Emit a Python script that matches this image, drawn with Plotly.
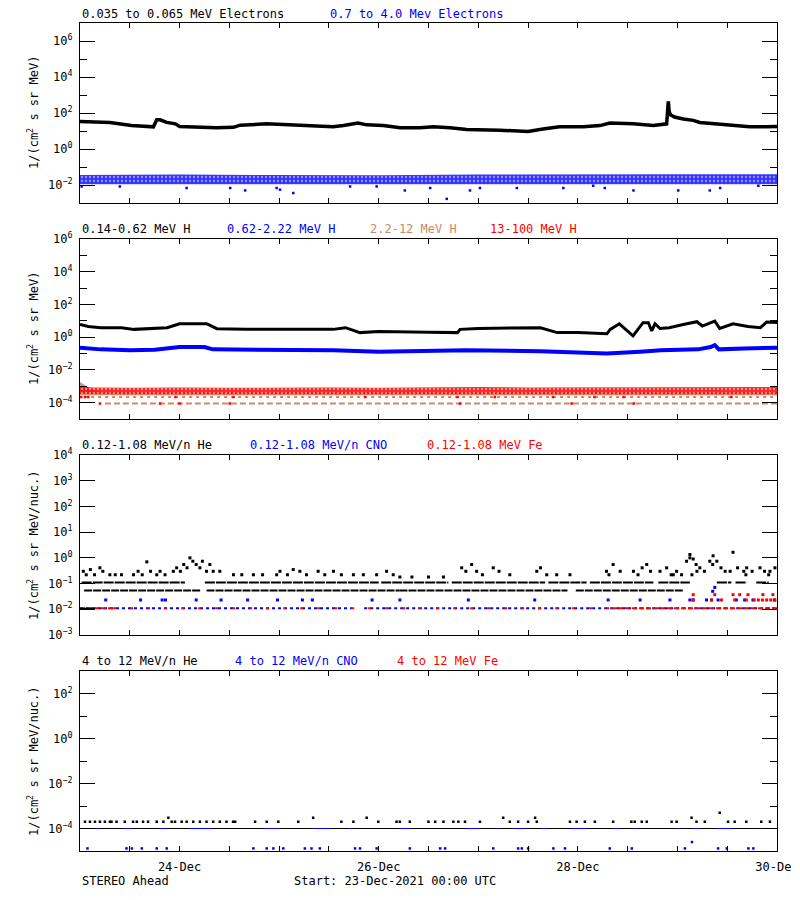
import pandas as pd
import plotly.graph_objects as go
from plotly.subplots import make_subplots

START = pd.Timestamp("2021-12-23 00:00")
END = pd.Timestamp("2021-12-30 00:00")

# ---------------- Panel 1 : electrons ----------------
e_low_hours = [0, 4, 7.2, 12.4, 17.7, 18.5, 19.3, 20.9, 23, 24, 28.9, 32.9, 37, 38.6, 45, 53, 57, 61, 63.5,
               67, 69.1, 73.1, 76.3, 77.1, 81.9, 85.2, 89.2, 93.2, 101.2, 108, 111.6, 115.6, 121.3, 125.3,
               127.7, 133.3, 138.2, 141.4, 141.8, 141.9, 142.0, 142.3, 143.3, 145.4, 147.8, 149.4, 153.4,
               157.4, 161.4, 165.4, 168]
e_low_flux = [34, 32, 30, 20, 17, 42, 42, 30, 25, 18, 16, 15, 16, 21, 25, 20, 18, 17, 20,
              28, 22, 20, 16, 15, 15, 17, 15, 12, 11, 9.5, 13, 17, 17, 20,
              28, 25, 20, 25, 440, 230, 122, 80, 60, 46, 39, 30, 25,
              20, 17, 17, 18]

e_high_band_hours = [0, 24, 48, 72, 96, 120, 144, 168]
e_high_band_low = [0.011, 0.011, 0.011, 0.011, 0.011, 0.011, 0.011, 0.011]
e_high_band_high = [0.036, 0.038, 0.036, 0.035, 0.038, 0.040, 0.040, 0.040]
e_high_out_hours = [0.4, 9.6, 25.7, 36.2, 39.8, 47.4, 48.2, 51.4, 65.1, 71.5, 78.3, 84.4, 88.4, 94.0,
                    96.4, 105.3, 116.5, 123.7, 126.5, 133.4, 144.2, 151.8, 154.3, 163.5]
e_high_out_flux = [0.0083, 0.0083, 0.0068, 0.0068, 0.005, 0.0068, 0.0055, 0.0036, 0.0083, 0.0083,
                   0.005, 0.0068, 0.0017, 0.005, 0.0068, 0.0068, 0.0068, 0.0091, 0.0068, 0.005,
                   0.005, 0.005, 0.0068, 0.0091]

# ---------------- Panel 2 : protons ----------------
h1_hours = [0, 2, 5, 10, 13, 17, 21, 24, 27, 30.5, 33, 40, 50, 58, 61, 64, 67.5, 72, 77, 84, 91, 91.6,
            96, 104, 111, 115, 120, 127, 127.8, 130, 132.5, 133.3, 135.7, 137, 137.8, 138.6, 139.8, 142,
            145.4, 148.7, 150, 153, 154.2, 157.4, 161, 164, 165.5, 168]
h1_flux = [6.0, 4.5, 3.8, 3.8, 3.0, 3.4, 3.8, 6.6, 6.6, 6.6, 3.3, 3.0, 3.0, 3.0, 3.0, 3.8, 1.9, 2.2, 2.2,
           2.0, 1.9, 3.0, 3.4, 3.6, 3.8, 1.9, 1.9, 1.6, 3.0, 6.6, 1.9, 1.2, 7.7, 7.7, 2.4, 6.6, 3.4, 3.8,
           6.0, 8.8, 4.8, 9.6, 3.4, 6.6, 4.5, 3.8, 8.4, 8.0]

h2_hours = [0, 5, 12, 18, 24, 30, 32, 45, 61, 72, 77, 93, 111, 120, 127, 135, 140, 149, 152, 153, 154, 160, 168]
h2_flux = [0.23, 0.18, 0.16, 0.17, 0.25, 0.25, 0.18, 0.17, 0.16, 0.13, 0.14, 0.16, 0.14, 0.12, 0.10, 0.13,
           0.16, 0.18, 0.25, 0.33, 0.18, 0.20, 0.23]

h3_band_hours = [0, 1, 3, 6, 168]
h3_band_low = [2.8e-4, 2.8e-4, 2.8e-4, 2.8e-4, 2.8e-4]
h3_band_high = [1.8e-3, 1.2e-3, 6.0e-4, 4.5e-4, 4.5e-4]
h3_row_a = [(1.0, 168.0)]
h3_row_a_flux = 2.2e-4
h3_row_b = [(6.0, 168.0)]
h3_row_b_flux = 9.0e-5

h4_band_hours = [0, 3, 12, 24, 36, 48, 60, 72, 84, 96, 108, 120, 132, 144, 156, 168]
h4_band_low = [3.4e-4, 3.3e-4, 3.3e-4, 3.3e-4, 3.3e-4, 3.3e-4, 3.3e-4, 3.3e-4, 3.3e-4, 3.3e-4, 3.3e-4,
               3.3e-4, 3.3e-4, 3.3e-4, 3.3e-4, 3.3e-4]
h4_band_high = [1.0e-3, 8.5e-4, 8.0e-4, 8.5e-4, 8.0e-4, 8.5e-4, 8.5e-4, 8.0e-4, 8.5e-4, 9.0e-4, 8.5e-4,
                8.5e-4, 9.0e-4, 9.0e-4, 8.5e-4, 9.0e-4]
h4_out_hours = [0.3, 1.2, 2.0, 4.8, 19.3, 23.0, 24.0, 36.1, 37.0, 68.7, 91.0, 91.6, 100.0, 114.0, 118.5,
                124.0, 131.0, 133.5, 157.0]
h4_out_flux = [2.2e-4, 2.2e-4, 2.2e-4, 8.8e-5, 8.8e-5, 2.2e-4, 8.8e-5, 8.8e-5, 2.2e-4, 2.2e-4, 2.2e-4,
               8.8e-5, 2.2e-4, 2.2e-4, 8.8e-5, 2.2e-4, 2.2e-4, 8.8e-5, 2.2e-4]

# ---------------- Panel 3 : 0.12-1.08 MeV/n ions ----------------
he_lo_row1 = [(0.4, 25.3), (30.1, 72.0), (72.6, 88.8), (89.6, 112.1), (112.9, 122.1), (122.9, 138.2),
              (139.4, 147.0), (153.5, 157.0), (158.0, 160.7), (163.0, 166.0)]
he_lo_row1_flux = 0.11
he_lo_row2 = [(1.0, 29.0), (30.5, 77.0), (77.0, 117.5), (119.5, 145.5)]
he_lo_row2_flux = 0.054
he_lo_row3 = [(0.0, 3.6)]
he_lo_row3_flux = 0.0105
he_lo_pts_hours = [0.8, 1.5, 2.5, 3.5, 4.8, 5.5, 7.2, 8.5, 10, 12.9, 14, 15, 16.1, 17, 18.5, 19.3, 20.5,
                   22.5, 23.3, 24.2, 25, 25.8, 26.5, 27.2, 28, 28.9, 29.5, 30.5, 31.3, 32.1, 33.7, 37, 39,
                   41.8, 44, 47.4, 48.2, 50, 51.4, 53, 54.6, 57.4, 59, 61.1, 63, 65.9, 68.3, 71.5, 73.9,
                   75.5, 77.1, 80, 84, 87.6, 92, 93, 94.4, 95.6, 97, 99.6, 101, 103.6, 110.1, 111, 112.5,
                   114.9, 118.1, 126.9, 127.5, 128.5, 130.2, 133.4, 134.5, 135.5, 136.6, 137.5, 139.8,
                   141.4, 142.5, 143.8, 145, 146.2, 147, 147.8, 148.5, 149.4, 150.5, 151.8, 152.6, 153.5,
                   154.5, 155.5, 156.7, 157.4, 158.5, 160, 160.7, 162, 163.9, 165, 166.3, 167.5, 152.5,
                   147.0, 148.7, 160.5, 147.5, 166.0, 143.0, 130.0]
he_lo_pts_flux = [0.30, 0.22, 0.35, 0.22, 0.41, 0.30, 0.22, 0.22, 0.22, 0.22, 0.30, 0.22, 0.70, 0.30, 0.22,
                  0.30, 0.22, 0.30, 0.41, 0.30, 0.55, 0.41, 1.0, 0.74, 0.55, 0.41, 0.74, 0.30, 0.55, 0.30,
                  0.30, 0.22, 0.22, 0.22, 0.22, 0.22, 0.30, 0.22, 0.35, 0.30, 0.22, 0.30, 0.22, 0.30, 0.22,
                  0.22, 0.22, 0.22, 0.30, 0.22, 0.18, 0.18, 0.18, 0.18, 0.41, 0.30, 0.55, 0.30, 0.22, 0.41,
                  0.30, 0.22, 0.30, 0.41, 0.22, 0.22, 0.22, 0.30, 0.22, 0.55, 0.30, 0.30, 0.22, 0.41, 0.55,
                  0.30, 0.30, 0.41, 0.22, 0.30, 0.22, 0.74, 1.35, 0.90, 0.55, 0.41, 0.30, 0.74, 1.20, 0.74,
                  0.41, 0.30, 0.30, 1.65, 0.41, 0.30, 0.41, 0.30, 0.41, 0.30, 0.30, 0.41, 0.55, 1.0, 0.30,
                  0.22, 0.22, 0.22, 0.22]

cno_lo_row = [(0.0, 65.5), (68.5, 168.0)]
cno_lo_row_flux = 0.011
cno_lo_pts_hours = [6.2, 14.6, 19.8, 20.6, 28, 34, 40.4, 47.6, 53.6, 56, 70.4, 77.1, 93.6, 109.6, 127.3,
                    135, 142.2, 147, 147.8, 151, 152.2, 153.8, 158.2, 160.2, 162.2, 167.4, 152.5, 153.0]
cno_lo_pts_flux = [0.023, 0.023, 0.023, 0.023, 0.023, 0.023, 0.023, 0.023, 0.023, 0.023, 0.023, 0.023,
                   0.023, 0.023, 0.023, 0.023, 0.023, 0.023, 0.023, 0.023, 0.023, 0.023, 0.023, 0.023,
                   0.023, 0.023, 0.05, 0.071]

fe_lo_row_sparse = [(8.0, 128.0)]
fe_lo_row_dense = [(0.0, 8.0), (128.0, 168.0)]
fe_lo_row_flux = 0.011
fe_lo_pts_hours = [147.8, 152.2, 154.6, 157.8, 160.6, 162.5, 163.5, 164.5, 165.5, 166.5, 167.5,
                   147.8, 153.0, 157.4, 159.0, 161.0, 164.6, 167.0]
fe_lo_pts_flux = [0.023, 0.023, 0.023, 0.023, 0.023, 0.023, 0.023, 0.023, 0.023, 0.023, 0.023,
                  0.037, 0.037, 0.037, 0.037, 0.037, 0.037, 0.037]

# ---------------- Panel 4 : 4-12 MeV/n ions ----------------
he_hi_base = [(0.4, 168.0)]
he_hi_base_flux = 1.0e-4
he_hi_pts_hours = [1.2, 2.4, 3.6, 4.8, 6.0, 7.2, 7.6, 8.8, 10.8, 12.8, 13.7, 15.2, 16.4, 18.5, 20.1, 21.3,
                   22.1, 22.9, 24.5, 25.7, 27.3, 28.9, 30.5, 32.1, 33.7, 35.3, 36.9, 37.4, 42.2, 45, 47.8,
                   52.6, 56.2, 63, 65.9, 69.1, 71.9, 76.3, 77.1, 79.5, 84, 85.6, 87.6, 90, 91.2, 92.8,
                   96.4, 102, 103.6, 105.6, 108, 109.7, 110.1, 118.1, 119.7, 121.7, 124.1, 128.5, 132.9,
                   133.7, 135.4, 136.6, 142.6, 143.8, 147.4, 148.6, 150.6, 154.2, 156.2, 157.8, 160.6,
                   164.2, 166.3]
he_hi_pts_flux = [2e-4, 2e-4, 2e-4, 2e-4, 2e-4, 2e-4, 2e-4, 2e-4, 2e-4, 2e-4, 2e-4, 2e-4, 2e-4, 2e-4,
                  2e-4, 3e-4, 2e-4, 2e-4, 2e-4, 2e-4, 2e-4, 2e-4, 2e-4, 2e-4, 2e-4, 2e-4, 2e-4, 2e-4,
                  2e-4, 2e-4, 2e-4, 2e-4, 3e-4, 2e-4, 2e-4, 3e-4, 2e-4, 2e-4, 2e-4, 2e-4, 2e-4, 2e-4,
                  2e-4, 2e-4, 2e-4, 2e-4, 2e-4, 3e-4, 2e-4, 2e-4, 2e-4, 3e-4, 2e-4, 2e-4, 2e-4, 2e-4,
                  2e-4, 2e-4, 2e-4, 2e-4, 2e-4, 2e-4, 2e-4, 2e-4, 3e-4, 2e-4, 2e-4, 5e-4, 2e-4, 2e-4,
                  2e-4, 2e-4, 2e-4]
cno_hi_base = [(3.6, 4.8), (10.4, 12.5), (19.3, 20.9), (26.5, 32.1), (44.2, 48.2), (56.2, 60.3),
               (64.8, 65.4), (77.0, 79.5), (93.0, 96.4), (100.4, 101.2), (104.4, 107.6), (111.2, 112.8),
               (118.1, 122.1), (128.5, 130.2), (133.4, 134.2), (143.8, 144.6), (147.8, 149.4),
               (153.4, 157.4), (164.0, 164.5)]
cno_hi_base_flux = 1.0e-4
cno_hi_pts_hours = [1.8, 11.2, 12.5, 14.9, 18.5, 20.9, 41.8, 45, 46.6, 49, 54.2, 55.8, 57.8, 66.3, 67.5,
                    71.5, 79.5, 86.8, 88, 99.6, 105.6, 106.5, 108, 114.1, 116.9, 127.7, 133, 145.8, 153.8,
                    155.9, 161.1, 162.3, 147.5]
cno_hi_pts_flux = [1.3e-5] * 32 + [2.5e-5]

# x-axis labels
x_tick_days = ["2021-12-24", "2021-12-26", "2021-12-28", "2021-12-30"]


def times(hours):
    return [START + pd.Timedelta(hours=h) for h in hours]


def segments(segs, level):
    xs, ys = [], []
    for a, b in segs:
        xs += [START + pd.Timedelta(hours=a), START + pd.Timedelta(hours=b), None]
        ys += [level, level, None]
    return xs, ys


BLACK = "#000000"
BLUE = "#0000FF"
RED = "#FF0000"
TAN = "#CD8769"
FONT = "DejaVu Sans Mono"

fig = make_subplots(rows=4, cols=1, shared_xaxes=True)


def band(row, hrs, lo, hi, color, pattern=None):
    fig.add_trace(go.Scatter(x=times(hrs), y=lo, mode="lines", line=dict(width=0, color=color),
                             hoverinfo="skip", showlegend=False), row=row, col=1)
    kw = dict(fill="tonexty", fillcolor=color)
    if pattern is not None:
        kw["fillpattern"] = pattern
    fig.add_trace(go.Scatter(x=times(hrs), y=hi, mode="lines", line=dict(width=0, color=color),
                             hoverinfo="skip", showlegend=False, **kw), row=row, col=1)


def pts(row, hrs, vals, color, size=3):
    fig.add_trace(go.Scatter(x=times(hrs), y=vals, mode="markers",
                             marker=dict(symbol="square", size=size, color=color, line=dict(width=0)),
                             showlegend=False), row=row, col=1)


def curve(row, hrs, vals, color, width):
    fig.add_trace(go.Scatter(x=times(hrs), y=vals, mode="lines", line=dict(color=color, width=width),
                             showlegend=False), row=row, col=1)


def row_line(row, segs, level, color, width=2, dash="solid"):
    xs, ys = segments(segs, level)
    fig.add_trace(go.Scatter(x=xs, y=ys, mode="lines", line=dict(color=color, width=width, dash=dash),
                             connectgaps=False, showlegend=False), row=row, col=1)


SPECKLE = dict(shape=".", fgcolor="white", size=4, solidity=0.25, fillmode="overlay")

# Panel 1
band(1, e_high_band_hours, e_high_band_low, e_high_band_high, "rgba(0,0,255,0.8)", SPECKLE)
pts(1, e_high_out_hours, e_high_out_flux, BLUE, 2.5)
curve(1, e_low_hours, e_low_flux, BLACK, 3.5)

# Panel 2
band(2, h3_band_hours, h3_band_low, h3_band_high, "rgba(205,135,105,0.9)")
band(2, h4_band_hours, h4_band_low, h4_band_high, "rgba(255,0,0,0.85)", SPECKLE)
row_line(2, h3_row_a, h3_row_a_flux, TAN, 2, "3px,4px")
row_line(2, h3_row_b, h3_row_b_flux, TAN, 2, "6px,3px")
pts(2, h4_out_hours, h4_out_flux, RED, 2.5)
curve(2, h2_hours, h2_flux, BLUE, 4)
curve(2, h1_hours, h1_flux, BLACK, 3)

# Panel 3
row_line(3, cno_lo_row, cno_lo_row_flux, BLUE, 2, "3px,3px")
row_line(3, fe_lo_row_sparse, fe_lo_row_flux, RED, 2, "3px,14px")
row_line(3, fe_lo_row_dense, fe_lo_row_flux, RED, 2, "5px,2px")
pts(3, cno_lo_pts_hours, cno_lo_pts_flux, BLUE, 3)
pts(3, fe_lo_pts_hours, fe_lo_pts_flux, RED, 3)
row_line(3, he_lo_row3, he_lo_row3_flux, BLACK, 2)
row_line(3, he_lo_row2, he_lo_row2_flux, BLACK, 2, "8px,1px")
row_line(3, he_lo_row1, he_lo_row1_flux, BLACK, 2, "10px,1px")
pts(3, he_lo_pts_hours, he_lo_pts_flux, BLACK, 3)

# Panel 4
row_line(4, he_hi_base, he_hi_base_flux, BLACK, 1)
row_line(4, cno_hi_base, cno_hi_base_flux, BLUE, 1)
pts(4, he_hi_pts_hours, he_hi_pts_flux, BLACK, 2.5)
pts(4, cno_hi_pts_hours, cno_hi_pts_flux, BLUE, 2.5)

# ---- axes ----
PH = 828.0
doms = [(648 / PH, 1.0), (432 / PH, 612 / PH), (216 / PH, 396 / PH), (0.0, 180 / PH)]
yranges = [(-3, 7), (-5, 6), (-3, 4), (-5, 3)]
ymajor = [[-2, 0, 2, 4, 6], [-4, -2, 0, 2, 4, 6], [-3, -2, -1, 0, 1, 2, 3, 4], [-4, -2, 0, 2]]
yminor = [[-1, 1, 3, 5], [-3, -1, 1, 3, 5], [], [-3, -1, 1]]


def sup(e):
    s = str(e).replace("-", "\u2212")
    return "10<sup>" + s + "</sup>"


for i in range(4):
    r = i + 1
    fig.update_yaxes(
        type="log", range=list(yranges[i]), domain=list(doms[i]),
        tickmode="array", tickvals=[10.0 ** e for e in ymajor[i]], ticktext=[sup(e) for e in ymajor[i]],
        ticks="inside", ticklen=15, tickwidth=1, tickcolor="black",
        minor=dict(tickmode="array", tickvals=[10.0 ** e for e in yminor[i]], ticks="inside", ticklen=7,
                   tickwidth=1, tickcolor="black", showgrid=False),
        showline=True, linecolor="black", linewidth=1, mirror="ticks",
        showgrid=False, zeroline=False, ticklabelstandoff=4, automargin=False,
        tickfont=dict(family=FONT, size=12, color="black"),
        row=r, col=1)
    fig.update_xaxes(
        type="date", range=[START, END],
        tickmode="array", tickvals=x_tick_days, tickformat="%d-%b",
        ticks="inside", ticklen=5, tickwidth=1, tickcolor="black",
        minor=dict(ticks="inside", ticklen=5, tickwidth=1, tickcolor="black", dtick=43200000,
                   tick0="2021-12-23", showgrid=False),
        showline=True, linecolor="black", linewidth=1, mirror="ticks",
        showgrid=False, zeroline=False, showticklabels=(r == 4), ticklabelstandoff=5, automargin=False,
        tickfont=dict(family=FONT, size=12, color="black"),
        row=r, col=1)

# ---- annotations (positions given in page pixels of the reference) ----
def px_x(px):
    return (px - 80) / 697.0


def px_y(py):
    return (851 - py) / PH


annos = []
titles = [
    (13.5, [(80, "0.035 to 0.065 MeV Electrons", BLACK), (328, "0.7 to 4.0 Mev Electrons", BLUE)]),
    (229, [(80, "0.14-0.62 MeV H", BLACK), (225, "0.62-2.22 MeV H", BLUE), (368, "2.2-12 MeV H", TAN),
           (488, "13-100 MeV H", RED)]),
    (445, [(80, "0.12-1.08 MeV/n He", BLACK), (248, "0.12-1.08 MeV/n CNO", BLUE),
           (425, "0.12-1.08 MeV Fe", RED)]),
    (661, [(80, "4 to 12 MeV/n He", BLACK), (233, "4 to 12 MeV/n CNO", BLUE), (395, "4 to 12 MeV Fe", RED)]),
]
for py, items in titles:
    for px, txt, col in items:
        annos.append(dict(x=px_x(px), y=px_y(py), xref="paper", yref="paper", text=txt, showarrow=False,
                          xanchor="left", yanchor="middle", font=dict(family=FONT, size=12, color=col)))

ytitles = ["1/(cm<sup>2</sup> s sr MeV)", "1/(cm<sup>2</sup> s sr MeV)",
           "1/(cm<sup>2</sup> s sr MeV/nuc.)", "1/(cm<sup>2</sup> s sr MeV/nuc.)"]
for i in range(4):
    annos.append(dict(x=px_x(33), y=(doms[i][0] + doms[i][1]) / 2, xref="paper", yref="paper",
                      text=ytitles[i], textangle=-90, showarrow=False, xanchor="center", yanchor="middle",
                      font=dict(family=FONT, size=12, color="black")))

annos.append(dict(x=px_x(80), y=px_y(881), xref="paper", yref="paper", text="STEREO Ahead", showarrow=False,
                  xanchor="left", yanchor="middle", font=dict(family=FONT, size=12, color="black")))
annos.append(dict(x=px_x(292), y=px_y(881), xref="paper", yref="paper", text="Start: 23-Dec-2021 00:00 UTC",
                  showarrow=False, xanchor="left", yanchor="middle",
                  font=dict(family=FONT, size=12, color="black")))

# the page body adds an 8 px offset, so the figure is 792x892 with margins reduced by 8 px
fig.update_layout(
    width=792, height=892,
    margin=dict(l=72, r=23, t=15, b=49, autoexpand=False),
    paper_bgcolor="white", plot_bgcolor="white",
    showlegend=False, annotations=annos,
    font=dict(family=FONT, size=12, color="black"),
)

fig.write_html("out.html")
